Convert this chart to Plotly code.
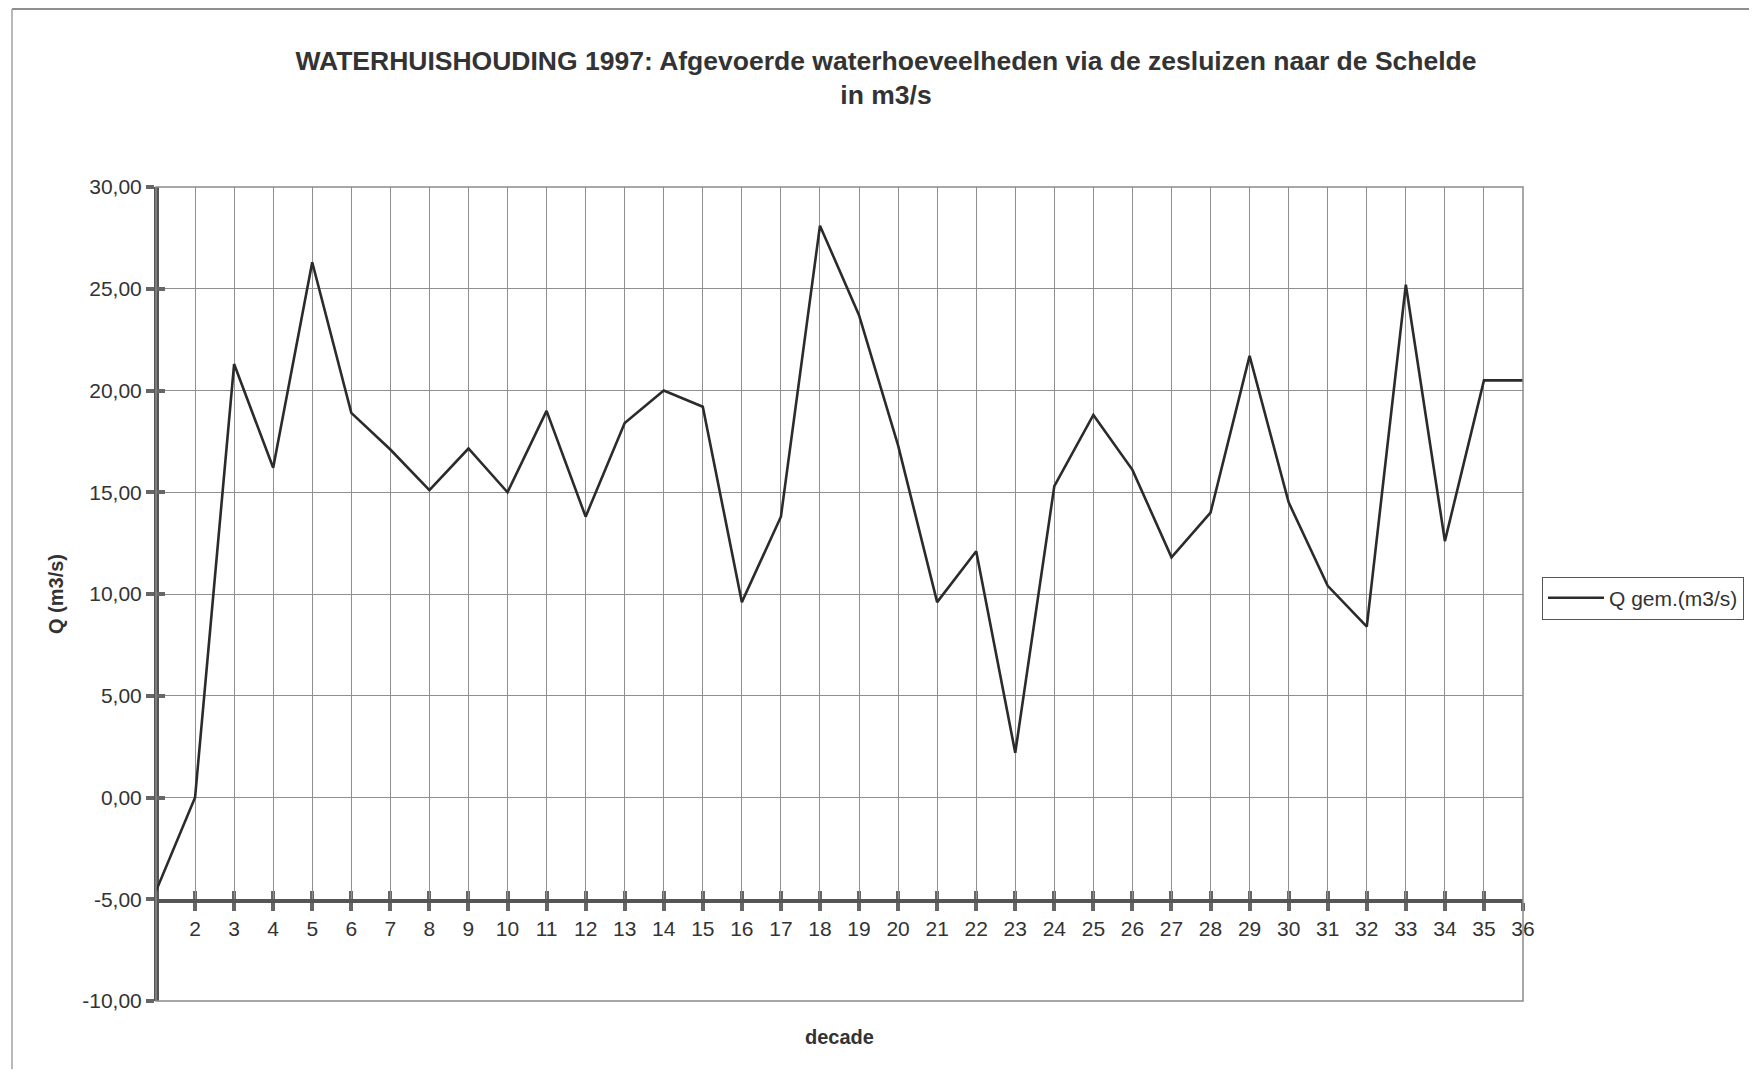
import plotly.graph_objects as go

# ---- data -------------------------------------------------------------
decades = list(range(1, 37))
q_gem = [-4.6, 0.0, 21.3, 16.2, 26.3, 18.9, 17.1, 15.1, 17.15, 15.0,
         19.0, 13.8, 18.4, 20.0, 19.2, 9.6, 13.8, 28.1, 23.7, 17.3,
         9.6, 12.1, 2.2, 15.3, 18.8, 16.1, 11.8, 14.0, 21.7, 14.5,
         10.4, 8.4, 25.2, 12.6, 20.5, 20.5]
x_tick_vals = list(range(2, 37))
x_tick_text = [str(v) for v in x_tick_vals]
y_tick_vals = [-10, -5, 0, 5, 10, 15, 20, 25, 30]
y_tick_text = ["-10,00", "-5,00", "0,00", "5,00", "10,00", "15,00", "20,00", "25,00", "30,00"]
y_upper_ticks = [-5, 0, 5, 10, 15, 20, 25, 30]
series_name = "Q gem.(m3/s)"
title_text = ("<b>WATERHUISHOUDING 1997: Afgevoerde waterhoeveelheden via de zesluizen naar de Schelde"
              "<br>in m3/s</b>")

FONT = "Liberation Sans, Arial, Helvetica, sans-serif"
AXIS_COL = "#555555"
TICK_COL = "#666666"
GRID_COL = "#8f8f8f"
TXT_COL = "#333333"
CLEAR = "rgba(0,0,0,0)"

# page body has an 8px margin; figure is sized so that it fits the window
W, H = 1741, 1061
ML, MR, MT, MB = 148, 226, 179, 68
PW, PH = W - ML - MR, H - MT - MB
X_CROSS = 0.125  # fraction of plot height where y = -5 lies

def px_x(X):
    return (X - ML) / PW

def px_y(Y):
    return (H - MB - Y) / PH

fig = go.Figure()
# subplot A (x, y): full value axis -10..30 with labels and horizontal grid
fig.add_trace(go.Scatter(x=[], y=[], xaxis="x", yaxis="y", showlegend=False,
                         hoverinfo="skip"))
# subplot B (x2, y2): region above the category axis (-5..30), carries the data
fig.add_trace(go.Scatter(
    x=decades, y=q_gem, mode="lines", name=series_name,
    line=dict(color="#2b2b2b", width=2.6),
    xaxis="x2", yaxis="y2", showlegend=True,
))

fig.update_layout(
    width=W, height=H,
    margin=dict(l=ML, r=MR, t=MT, b=MB, autoexpand=False),
    paper_bgcolor="white", plot_bgcolor=CLEAR,
    font=dict(family=FONT, size=19, color=TXT_COL),
    title=dict(text=title_text, x=(886 - 8) / W, xref="container", xanchor="center",
               y=1 - 62 / H, yref="container", yanchor="top",
               font=dict(family=FONT, size=26.5, color=TXT_COL)),
    showlegend=True,
    legend=dict(x=px_x(1534), y=0.495, xanchor="left", yanchor="middle",
                bordercolor="#555555", borderwidth=1, bgcolor="white",
                itemwidth=56,
                font=dict(family=FONT, size=21, color=TXT_COL)),
    # x of subplot A: only the upper halves of the cross ticks at y = -5
    xaxis=dict(domain=[0, 1], range=[1, 36], anchor="free", position=X_CROSS,
               tickmode="array", tickvals=x_tick_vals, showticklabels=False,
               ticks="inside", ticklen=8, tickwidth=3.5, tickcolor=TICK_COL,
               showline=False, showgrid=False, zeroline=False),
    yaxis=dict(domain=[0, 1], range=[-10, 30], anchor="free", position=0,
               tickmode="array", tickvals=y_tick_vals, ticktext=y_tick_text,
               ticks="outside", ticklen=8, tickwidth=3.5, tickcolor=TICK_COL,
               showline=True, linewidth=5, linecolor=AXIS_COL,
               showgrid=True, gridcolor=GRID_COL, gridwidth=1, zeroline=False,
               tickfont=dict(family=FONT, size=21, color=TXT_COL),
               title=dict(text="<b>Q (m3/s)</b>", standoff=12,
                          font=dict(family=FONT, size=20, color=TXT_COL))),
    # category axis of subplot B sits at its bottom, i.e. at y = -5
    xaxis2=dict(domain=[0, 1], range=[1, 36], anchor="y2", side="bottom",
                tickmode="array", tickvals=x_tick_vals, ticktext=x_tick_text,
                ticks="outside", ticklen=8, tickwidth=3.5, tickcolor=TICK_COL,
                showline=True, linewidth=4, linecolor=AXIS_COL,
                showgrid=True, gridcolor=GRID_COL, gridwidth=1, zeroline=False,
                tickfont=dict(family=FONT, size=21, color=TXT_COL),
                title=dict(text="<b>decade</b>", standoff=92,
                           font=dict(family=FONT, size=20, color=TXT_COL))),
    # value axis of subplot B: invisible except the inner halves of the y ticks
    yaxis2=dict(domain=[X_CROSS, 1], range=[-5, 30], anchor="free", position=0,
                tickmode="array", tickvals=y_upper_ticks, showticklabels=False,
                ticks="inside", ticklen=8, tickwidth=3.5, tickcolor=TICK_COL,
                showgrid=False, showline=False, zeroline=False),
)

# plot-area frame and page border lines
fig.add_shape(type="rect", xref="paper", yref="paper", x0=0, x1=1, y0=0, y1=1,
              line=dict(color="#8a8a8a", width=1.5), layer="above")
fig.add_shape(type="line", xref="paper", yref="paper",
              x0=px_x(4), x1=px_x(W), y0=px_y(1), y1=px_y(1),
              line=dict(color="#8f8f8f", width=2))
fig.add_shape(type="line", xref="paper", yref="paper",
              x0=px_x(4), x1=px_x(4), y0=px_y(1), y1=px_y(H),
              line=dict(color="#a0a0a0", width=1.5))

fig.write_html("out.html")
